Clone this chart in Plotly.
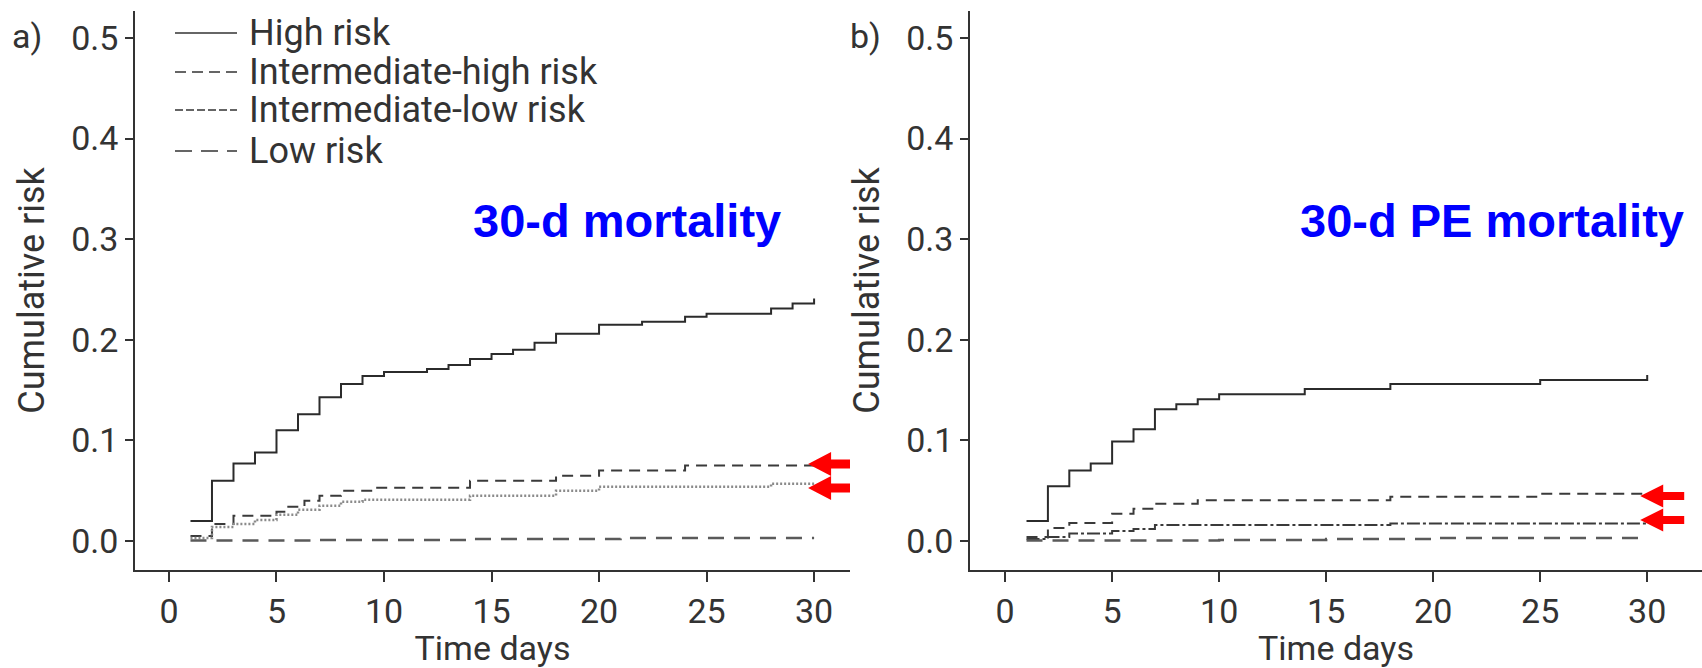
import plotly.graph_objects as go

# ---------------- data ----------------
days_a_high = [1, 2, 3, 4, 5, 6, 7, 8, 9, 10, 12, 13, 14, 15, 16, 17, 18, 20, 22, 24, 25, 28, 29, 30]
risk_a_high = [0.020, 0.060, 0.077, 0.088, 0.110, 0.126, 0.143, 0.156, 0.164, 0.168, 0.171, 0.175,
               0.181, 0.186, 0.190, 0.197, 0.206, 0.215, 0.218, 0.223, 0.226, 0.231, 0.236, 0.241]

days_a_ih = [1, 2, 3, 5, 5.5, 6.3, 7, 8, 9.5, 14, 18, 20, 24, 30]
risk_a_ih = [0.005, 0.017, 0.025, 0.029, 0.034, 0.040, 0.045, 0.050, 0.053, 0.060, 0.065, 0.070, 0.075, 0.075]

days_a_il = [1, 2, 3, 4, 5, 6, 7, 8, 9, 14, 18, 20, 28, 30]
risk_a_il = [0.003, 0.014, 0.017, 0.021, 0.026, 0.031, 0.035, 0.039, 0.041, 0.045, 0.050, 0.054, 0.057, 0.057]

days_a_low = [1, 7, 14, 21, 30]
risk_a_low = [0.0005, 0.001, 0.002, 0.003, 0.003]

days_b_high = [1, 2, 3, 4, 5, 6, 7, 8, 9, 10, 14, 18, 25, 30]
risk_b_high = [0.020, 0.0545, 0.070, 0.077, 0.099, 0.111, 0.131, 0.136, 0.141, 0.146, 0.151, 0.156, 0.160, 0.165]

days_b_ih = [1, 2, 3, 5, 6, 7, 9, 18, 25, 30]
risk_b_ih = [0.004, 0.013, 0.018, 0.027, 0.032, 0.037, 0.0405, 0.044, 0.047, 0.047]

days_b_il = [1, 2, 3, 5, 6, 7, 18, 30]
risk_b_il = [0.002, 0.004, 0.0075, 0.010, 0.012, 0.016, 0.0175, 0.0175]

days_b_low = [1, 10, 15, 20, 30]
risk_b_low = [0.0005, 0.001, 0.002, 0.003, 0.0035]

legend_labels = ["High risk", "Intermediate-high risk", "Intermediate-low risk", "Low risk"]
x_ticks = [0, 5, 10, 15, 20, 25, 30]
y_ticks = [0.0, 0.1, 0.2, 0.3, 0.4, 0.5]
panel_titles = ["30-d mortality", "30-d PE mortality"]
panel_letters = ["a)", "b)"]
x_title = "Time days"
y_title = "Cumulative risk"

# ---------------- layout geometry ----------------
W, H = 1702, 668
MT, MB = 11, 98
PH = H - MT - MB
FONT = "Roboto"
AX = "#333333"


def px_x(p):
    return p / W


def px_y(p):
    return (H - MB - p) / PH


fig = go.Figure()

styles = {
    "high": dict(color="#2b2b2b", width=2),
    "ih": dict(color="#3a3a3a", width=2, dash="11px,7px"),
    "il_a": dict(color="#8a8a8a", width=2.5, dash="2px,2px"),
    "il_b": dict(color="#3a3a3a", width=2, dash="13px,3px,3px,3px"),
    "low": dict(color="#5a5a5a", width=2.5, dash="16px,10px"),
}

panel_a = [(days_a_high, risk_a_high, "high"), (days_a_ih, risk_a_ih, "ih"),
           (days_a_il, risk_a_il, "il_a"), (days_a_low, risk_a_low, "low")]
panel_b = [(days_b_high, risk_b_high, "high"), (days_b_ih, risk_b_ih, "ih"),
           (days_b_il, risk_b_il, "il_b"), (days_b_low, risk_b_low, "low")]

for (d, r, s), name in zip(panel_a, legend_labels):
    fig.add_trace(go.Scatter(x=d, y=r, mode="lines", name=name, showlegend=False,
                             line=dict(shape="hv", **styles[s]), xaxis="x", yaxis="y"))
for (d, r, s), name in zip(panel_b, legend_labels):
    fig.add_trace(go.Scatter(x=d, y=r, mode="lines", name=name, showlegend=False,
                             line=dict(shape="hv", **styles[s]), xaxis="x2", yaxis="y2"))

y_range = [-0.0288, 0.5268]

common_x = dict(tickvals=x_ticks, showline=True, linecolor=AX, linewidth=1.5,
                ticks="outside", ticklen=10, tickwidth=1.5, tickcolor=AX,
                showgrid=False, zeroline=False,
                tickfont=dict(family=FONT, size=34, color=AX),
                title=dict(text=x_title, font=dict(family=FONT, size=34, color=AX), standoff=8))
common_y = dict(tickvals=y_ticks, tickformat=".1f", range=y_range, domain=[0, 1],
                showline=True, linecolor=AX, linewidth=1.5,
                ticks="outside", ticklen=8, tickwidth=1.5, tickcolor=AX,
                showgrid=False, zeroline=False,
                tickfont=dict(family=FONT, size=34, color=AX),
                title=dict(text=y_title, font=dict(family=FONT, size=36, color=AX), standoff=16))

fig.update_layout(
    width=W, height=H,
    margin=dict(l=0, r=0, t=MT, b=MB),
    paper_bgcolor="white", plot_bgcolor="white",
    font=dict(family=FONT, color=AX),
    xaxis=dict(domain=[px_x(135), px_x(850)], range=[-1.58, 31.67], anchor="y", **common_x),
    yaxis=dict(anchor="x", **common_y),
    xaxis2=dict(domain=[px_x(970), 1.0], range=[-1.64, 32.56], anchor="y2", **common_x),
    yaxis2=dict(anchor="x2", **common_y),
)

annotations = []
shapes = []

# panel letters
for lx, letter in zip([27, 865], panel_letters):
    annotations.append(dict(x=px_x(lx), y=px_y(36), xref="paper", yref="paper", text=letter,
                            showarrow=False, xanchor="center", yanchor="middle",
                            font=dict(family=FONT, size=34, color=AX)))

# panel titles
for cx, t in zip([627, 1492], panel_titles):
    annotations.append(dict(x=px_x(cx), y=px_y(220), xref="paper", yref="paper",
                            text="<b>" + t + "</b>", showarrow=False,
                            xanchor="center", yanchor="middle",
                            font=dict(family="Liberation Sans", size=47, color="#0000ff")))

# legend (panel a)
legend_dash = ["solid", "11px,6px", "8px,3px", "17px,9px"]
legend_rows = [33, 72, 110, 151]
for lbl, dsh, ry in zip(legend_labels, legend_dash, legend_rows):
    shapes.append(dict(type="line", xref="paper", yref="paper",
                       x0=px_x(175), x1=px_x(237), y0=px_y(ry), y1=px_y(ry),
                       line=dict(color=AX, width=1.5, dash=dsh)))
    annotations.append(dict(x=px_x(247), y=px_y(ry), xref="paper", yref="paper", text=lbl,
                            showarrow=False, xanchor="left", yanchor="middle",
                            font=dict(family=FONT, size=36, color=AX)))

# red arrows
arrow_left = "M -6,0 L 17,12 L 17,4.5 L 43,4.5 L 43,-4.5 L 17,-4.5 L 17,-12 Z"
arrow_right = "M -7,0 L 16,11.5 L 16,4 L 37,4 L 37,-4 L 16,-4 L 16,-11.5 Z"
for yv in [0.0765, 0.0527]:
    shapes.append(dict(type="path", xref="x", yref="y", xsizemode="pixel", ysizemode="pixel",
                       xanchor=30, yanchor=yv, path=arrow_left, fillcolor="#ff0000",
                       line=dict(width=0), layer="above"))
for yv in [0.0447, 0.0209]:
    shapes.append(dict(type="path", xref="x2", yref="y2", xsizemode="pixel", ysizemode="pixel",
                       xanchor=30, yanchor=yv, path=arrow_right, fillcolor="#ff0000",
                       line=dict(width=0), layer="above"))

fig.update_layout(annotations=annotations, shapes=shapes)

fig.write_html("out.html")
